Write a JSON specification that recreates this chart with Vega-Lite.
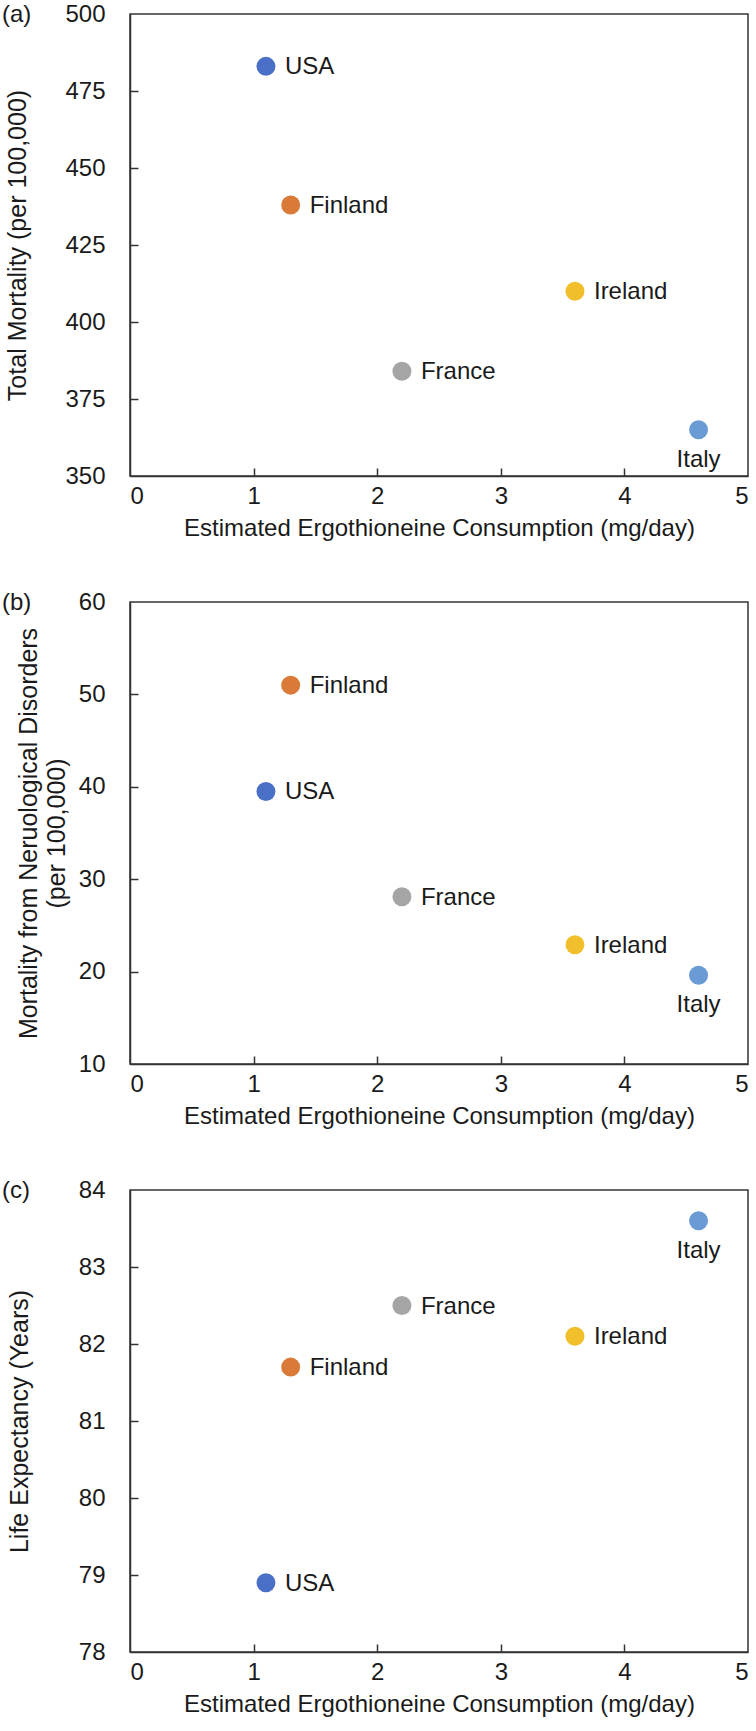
{
  "$schema": "https://vega.github.io/schema/vega-lite/v6.json",
  "background": "white",
  "padding": {"left": 1, "top": 1, "right": 5, "bottom": 2},
  "spacing": 48,
  "data": {
    "values": [
      {"country": "USA", "ergo": 1.1, "total": 483, "neuro": 39.5, "life": 78.9},
      {"country": "Finland", "ergo": 1.3, "total": 438, "neuro": 51.0, "life": 81.7},
      {"country": "France", "ergo": 2.2, "total": 384, "neuro": 28.1, "life": 82.5},
      {"country": "Ireland", "ergo": 3.6, "total": 410, "neuro": 22.9, "life": 82.1},
      {"country": "Italy", "ergo": 4.6, "total": 365, "neuro": 19.6, "life": 83.6}
    ]
  },
  "config": {
    "font": "Liberation Sans",
    "view": {"stroke": "#333333", "strokeWidth": 1.5},
    "axis": {
      "grid": false,
      "domainColor": "#333333",
      "domainWidth": 1.5,
      "tickColor": "#333333",
      "tickWidth": 1.5,
      "labelFontSize": 24,
      "labelColor": "#1a1a1a",
      "titleFontSize": 24,
      "titleFontWeight": "normal",
      "titleColor": "#1a1a1a"
    },
    "title": {"fontSize": 24, "fontWeight": "normal", "color": "#1a1a1a"},
    "text": {"font": "Liberation Sans"}
  },
  "vconcat": [
    {
      "width": 618,
      "height": 462,
      "title": {"text": "(a)", "anchor": "start", "frame": "group", "dx": -128, "offset": -25},
      "resolve": {"axis": {"x": "independent", "y": "independent"}},
      "layer": [
        {
          "encoding": {
            "x": {"field": "ergo", "type": "quantitative", "scale": {"domain": [0, 5], "nice": false},
              "axis": {"orient": "bottom", "ticks": false, "values": [0, 1, 2, 3, 4, 5], "labelPadding": 8, "titlePadding": 8, "title": "Estimated Ergothioneine Consumption (mg/day)"}},
            "y": {"field": "total", "type": "quantitative", "scale": {"domain": [350, 500], "nice": false, "zero": false},
              "axis": {"orient": "left", "ticks": false, "values": [350, 375, 400, 425, 450, 475, 500], "labelPadding": 25, "title": "Total Mortality (per 100,000)", "titleFontSize": 25, "titleX": -113, "titleBaseline": "middle"}}
          },
          "layer": [
            {"mark": {"type": "point", "filled": true, "opacity": 1, "size": 360},
              "encoding": {"color": {"field": "country", "type": "nominal", "legend": null,
                "scale": {"domain": ["USA", "Finland", "France", "Ireland", "Italy"], "range": ["#4A6FC7", "#D97A38", "#A5A5A5", "#F2BF2C", "#6A9BD5"]}}}},
            {"transform": [{"filter": "datum.country !== 'Italy'"}],
              "mark": {"type": "text", "align": "left", "baseline": "middle", "dx": 19, "dy": 1, "fontSize": 24, "color": "#1a1a1a"},
              "encoding": {"text": {"field": "country"}}},
            {"transform": [{"filter": "datum.country === 'Italy'"}],
              "mark": {"type": "text", "align": "center", "baseline": "middle", "dy": 30, "fontSize": 24, "color": "#1a1a1a"},
              "encoding": {"text": {"field": "country"}}}
          ]
        },
        {
          "mark": {"type": "point", "opacity": 0},
          "encoding": {
            "x": {"field": "ergo", "type": "quantitative", "scale": {"domain": [0, 5], "nice": false},
              "axis": {"orient": "bottom", "offset": -8, "ticks": true, "tickSize": 8, "labels": false, "domain": false, "title": null, "values": [1, 2, 3, 4]}},
            "y": {"field": "total", "type": "quantitative", "scale": {"domain": [350, 500], "nice": false, "zero": false},
              "axis": {"orient": "left", "offset": -8, "ticks": true, "tickSize": 8, "labels": false, "domain": false, "title": null, "values": [375, 400, 425, 450, 475]}}
          }
        }
      ]
    },
    {
      "width": 618,
      "height": 462,
      "title": {"text": "(b)", "anchor": "start", "frame": "group", "dx": -128, "offset": -25},
      "resolve": {"axis": {"x": "independent", "y": "independent"}},
      "layer": [
        {
          "encoding": {
            "x": {"field": "ergo", "type": "quantitative", "scale": {"domain": [0, 5], "nice": false},
              "axis": {"orient": "bottom", "ticks": false, "values": [0, 1, 2, 3, 4, 5], "labelPadding": 8, "titlePadding": 8, "title": "Estimated Ergothioneine Consumption (mg/day)"}},
            "y": {"field": "neuro", "type": "quantitative", "scale": {"domain": [10, 60], "nice": false, "zero": false},
              "axis": {"orient": "left", "ticks": false, "values": [10, 20, 30, 40, 50, 60], "labelPadding": 25, "title": ["Mortality from Neruological Disorders", "(per 100,000)"], "titleFontSize": 25, "titleX": -102, "titleBaseline": "middle", "titleLineHeight": 28}}
          },
          "layer": [
            {"mark": {"type": "point", "filled": true, "opacity": 1, "size": 360},
              "encoding": {"color": {"field": "country", "type": "nominal", "legend": null,
                "scale": {"domain": ["USA", "Finland", "France", "Ireland", "Italy"], "range": ["#4A6FC7", "#D97A38", "#A5A5A5", "#F2BF2C", "#6A9BD5"]}}}},
            {"transform": [{"filter": "datum.country !== 'Italy'"}],
              "mark": {"type": "text", "align": "left", "baseline": "middle", "dx": 19, "dy": 1, "fontSize": 24, "color": "#1a1a1a"},
              "encoding": {"text": {"field": "country"}}},
            {"transform": [{"filter": "datum.country === 'Italy'"}],
              "mark": {"type": "text", "align": "center", "baseline": "middle", "dy": 30, "fontSize": 24, "color": "#1a1a1a"},
              "encoding": {"text": {"field": "country"}}}
          ]
        },
        {
          "mark": {"type": "point", "opacity": 0},
          "encoding": {
            "x": {"field": "ergo", "type": "quantitative", "scale": {"domain": [0, 5], "nice": false},
              "axis": {"orient": "bottom", "offset": -8, "ticks": true, "tickSize": 8, "labels": false, "domain": false, "title": null, "values": [1, 2, 3, 4]}},
            "y": {"field": "neuro", "type": "quantitative", "scale": {"domain": [10, 60], "nice": false, "zero": false},
              "axis": {"orient": "left", "offset": -8, "ticks": true, "tickSize": 8, "labels": false, "domain": false, "title": null, "values": [20, 30, 40, 50]}}
          }
        }
      ]
    },
    {
      "width": 618,
      "height": 462,
      "title": {"text": "(c)", "anchor": "start", "frame": "group", "dx": -128, "offset": -25},
      "resolve": {"axis": {"x": "independent", "y": "independent"}},
      "layer": [
        {
          "encoding": {
            "x": {"field": "ergo", "type": "quantitative", "scale": {"domain": [0, 5], "nice": false},
              "axis": {"orient": "bottom", "ticks": false, "values": [0, 1, 2, 3, 4, 5], "labelPadding": 8, "titlePadding": 8, "title": "Estimated Ergothioneine Consumption (mg/day)"}},
            "y": {"field": "life", "type": "quantitative", "scale": {"domain": [78, 84], "nice": false, "zero": false},
              "axis": {"orient": "left", "ticks": false, "values": [78, 79, 80, 81, 82, 83, 84], "labelPadding": 25, "title": "Life Expectancy (Years)", "titleFontSize": 25, "titleX": -111, "titleBaseline": "middle"}}
          },
          "layer": [
            {"mark": {"type": "point", "filled": true, "opacity": 1, "size": 360},
              "encoding": {"color": {"field": "country", "type": "nominal", "legend": null,
                "scale": {"domain": ["USA", "Finland", "France", "Ireland", "Italy"], "range": ["#4A6FC7", "#D97A38", "#A5A5A5", "#F2BF2C", "#6A9BD5"]}}}},
            {"transform": [{"filter": "datum.country !== 'Italy'"}],
              "mark": {"type": "text", "align": "left", "baseline": "middle", "dx": 19, "dy": 1, "fontSize": 24, "color": "#1a1a1a"},
              "encoding": {"text": {"field": "country"}}},
            {"transform": [{"filter": "datum.country === 'Italy'"}],
              "mark": {"type": "text", "align": "center", "baseline": "middle", "dy": 30, "fontSize": 24, "color": "#1a1a1a"},
              "encoding": {"text": {"field": "country"}}}
          ]
        },
        {
          "mark": {"type": "point", "opacity": 0},
          "encoding": {
            "x": {"field": "ergo", "type": "quantitative", "scale": {"domain": [0, 5], "nice": false},
              "axis": {"orient": "bottom", "offset": -8, "ticks": true, "tickSize": 8, "labels": false, "domain": false, "title": null, "values": [1, 2, 3, 4]}},
            "y": {"field": "life", "type": "quantitative", "scale": {"domain": [78, 84], "nice": false, "zero": false},
              "axis": {"orient": "left", "offset": -8, "ticks": true, "tickSize": 8, "labels": false, "domain": false, "title": null, "values": [79, 80, 81, 82, 83]}}
          }
        }
      ]
    }
  ]
}
